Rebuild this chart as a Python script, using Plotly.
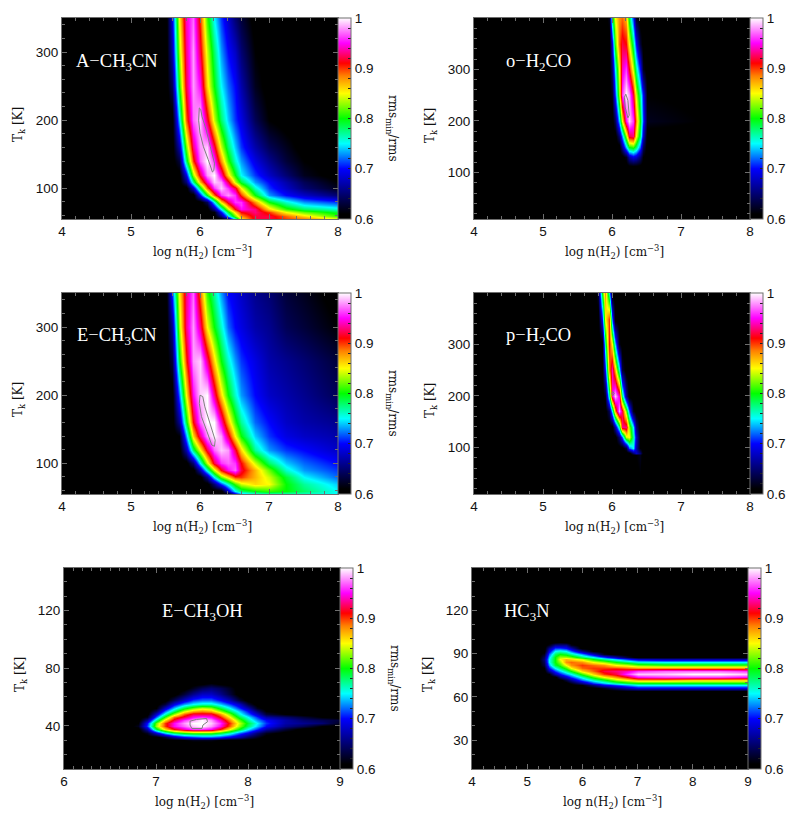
import plotly.graph_objects as go

# log n(H2) columns and T_k rows, z in percent of rms_min/rms
x_ach3cn = [4, 5.5, 5.6, 5.7, 5.8, 5.9, 6.0, 6.1, 6.2, 6.3, 6.4, 6.5, 6.6, 6.8, 7.0, 7.25, 7.5, 8]
t_ach3cn = [55, 60, 65, 70, 75, 80, 90, 100, 110, 120, 140, 160, 200, 250, 300, 350]
z_ach3cn = [
    [60, 60, 60, 60, 60, 60, 60, 60, 60, 60, 64, 75, 85, 92, 92, 90, 89, 85],
    [60, 60, 60, 60, 60, 60, 60, 60, 60, 65, 74, 82, 88, 92, 92, 89, 86, 81],
    [60, 60, 60, 60, 60, 60, 60, 60, 61, 70, 79, 86, 91, 93, 90, 85, 82, 79],
    [60, 60, 60, 60, 60, 60, 60, 60, 66, 75, 84, 91, 95, 93, 86, 81, 78, 76],
    [60, 60, 60, 60, 60, 60, 60, 62, 71, 81, 89, 94, 96, 90, 83, 78, 75, 73],
    [60, 60, 60, 60, 60, 60, 60, 64, 75, 86, 92, 96, 96, 88, 80, 76, 73, 71],
    [60, 60, 60, 60, 60, 60, 70, 80, 89, 96, 98, 96, 90, 80, 73, 70, 68, 65],
    [60, 60, 60, 60, 60, 68, 79, 89, 96, 99, 96, 92, 85, 76, 71, 68, 65, 62],
    [60, 60, 60, 60, 65, 77, 87, 94, 99, 98, 92, 84, 79, 73, 70, 67, 64, 61],
    [60, 60, 60, 60, 69, 83, 92, 98, 100, 94, 86, 80, 75, 71, 68, 65, 62, 60],
    [60, 60, 60, 63, 78, 90, 97, 100, 96, 88, 81, 76, 73, 69, 66, 63, 61, 60],
    [60, 60, 60, 67, 82, 93, 98, 99, 92, 84, 78, 74, 71, 67, 64, 62, 60, 60],
    [60, 60, 60, 74, 89, 97, 99, 92, 84, 78, 74, 71, 69, 64, 61, 60, 60, 60],
    [60, 60, 64, 80, 92, 98, 95, 86, 80, 75, 72, 70, 67, 62, 60, 60, 60, 60],
    [60, 60, 67, 83, 93, 98, 92, 84, 78, 73, 70, 68, 65, 61, 60, 60, 60, 60],
    [60, 60, 69, 85, 94, 97, 90, 81, 75, 71, 68, 65, 63, 60, 60, 60, 60, 60],
]

x_ech3cn = x_ach3cn
t_ech3cn = [55, 60, 70, 80, 90, 100, 120, 140, 160, 200, 250, 300, 350]
z_ech3cn = [
    [60, 60, 60, 60, 60, 60, 60, 60, 60, 60, 60, 68, 73, 75, 76, 76, 76, 75],
    [60, 60, 60, 60, 60, 60, 60, 60, 60, 60, 68, 75, 78, 80, 81, 80, 78, 75],
    [60, 60, 60, 60, 60, 60, 60, 60, 65, 71, 76, 81, 84, 86, 85, 80, 77, 74],
    [60, 60, 60, 60, 60, 60, 60, 66, 75, 82, 86, 90, 90, 87, 84, 79, 75, 72],
    [60, 60, 60, 60, 60, 60, 67, 76, 84, 91, 95, 97, 92, 87, 82, 76, 73, 71],
    [60, 60, 60, 60, 60, 65, 75, 84, 92, 96, 97, 96, 91, 84, 78, 74, 72, 70],
    [60, 60, 60, 60, 67, 78, 85, 92, 97, 99, 98, 92, 86, 77, 73, 71, 70, 68],
    [60, 60, 60, 61, 73, 86, 93, 98, 100, 98, 92, 85, 80, 74, 71, 69, 68, 67],
    [60, 60, 60, 66, 79, 91, 97, 100, 100, 94, 87, 81, 77, 72, 70, 68, 67, 66],
    [60, 60, 60, 72, 85, 95, 99, 100, 93, 86, 80, 76, 73, 70, 68, 67, 66, 64],
    [60, 60, 63, 79, 90, 98, 99, 93, 86, 80, 76, 73, 71, 69, 67, 66, 65, 63],
    [60, 60, 66, 83, 93, 98, 93, 85, 80, 76, 72, 70, 69, 67, 66, 64, 63, 61],
    [60, 60, 71, 85, 93, 97, 89, 81, 77, 73, 70, 69, 68, 66, 65, 63, 62, 60],
]

x_oh2co = [4, 5.9, 5.95, 6.0, 6.05, 6.1, 6.15, 6.2, 6.25, 6.3, 6.35, 6.4, 6.45, 6.5, 8]
t_oh2co = [10, 110, 130, 150, 170, 200, 250, 300, 350, 400]
z_oh2co = [
    [60, 60, 60, 60, 60, 60, 60, 60, 60, 60, 60, 60, 60, 60, 60],
    [60, 60, 60, 60, 60, 60, 60, 60, 60, 60, 60, 60, 60, 60, 60],
    [60, 60, 60, 60, 60, 60, 60, 62, 67, 69, 68, 65, 61, 60, 60],
    [60, 60, 60, 60, 60, 60, 66, 74, 80, 81, 78, 72, 64, 60, 60],
    [60, 60, 60, 60, 60, 65, 73, 83, 92, 93, 85, 78, 68, 60, 60],
    [60, 60, 60, 60, 64, 74, 85, 95, 99, 96, 88, 80, 71, 62, 60],
    [60, 60, 60, 62, 71, 83, 96, 100, 98, 92, 84, 77, 70, 61, 60],
    [60, 60, 60, 65, 75, 85, 94, 96, 91, 84, 77, 70, 62, 60, 60],
    [60, 60, 60, 69, 81, 89, 92, 91, 85, 78, 70, 63, 60, 60, 60],
    [60, 60, 62, 78, 85, 88, 89, 87, 79, 71, 62, 60, 60, 60, 60],
]

x_ph2co = [4, 5.75, 5.8, 5.85, 5.9, 5.95, 6.0, 6.05, 6.1, 6.15, 6.2, 6.25, 6.3, 6.35, 6.4, 6.45, 8]
t_ph2co = [10, 85, 90, 100, 120, 140, 170, 200, 250, 300, 350, 400]
z_ph2co = [
    [60, 60, 60, 60, 60, 60, 60, 60, 60, 60, 60, 60, 60, 60, 60, 60, 60],
    [60, 60, 60, 60, 60, 60, 60, 60, 60, 60, 60, 60, 60, 61, 62, 60, 60],
    [60, 60, 60, 60, 60, 60, 60, 60, 60, 60, 60, 60, 65, 68, 65, 60, 60],
    [60, 60, 60, 60, 60, 60, 60, 60, 60, 60, 63, 72, 75, 67, 61, 60, 60],
    [60, 60, 60, 60, 60, 60, 60, 60, 65, 72, 84, 85, 77, 68, 61, 60, 60],
    [60, 60, 60, 60, 60, 60, 60, 67, 77, 93, 93, 83, 75, 65, 60, 60, 60],
    [60, 60, 60, 60, 60, 64, 75, 88, 98, 92, 82, 72, 62, 60, 60, 60, 60],
    [60, 60, 60, 60, 62, 77, 94, 99, 94, 78, 66, 60, 60, 60, 60, 60, 60],
    [60, 60, 60, 60, 70, 88, 94, 87, 76, 63, 60, 60, 60, 60, 60, 60, 60],
    [60, 60, 60, 60, 77, 91, 85, 74, 62, 60, 60, 60, 60, 60, 60, 60, 60],
    [60, 60, 60, 70, 85, 90, 72, 60, 60, 60, 60, 60, 60, 60, 60, 60, 60],
    [60, 60, 63, 80, 88, 76, 60, 60, 60, 60, 60, 60, 60, 60, 60, 60, 60],
]

x_ch3oh = [6, 6.7, 6.8, 6.9, 7, 7.1, 7.2, 7.3, 7.4, 7.5, 7.6, 7.7, 7.8, 7.9, 8, 8.1, 8.2, 8.4, 8.6, 8.8, 9]
t_ch3oh = [10, 28, 30, 32, 35, 38, 40, 42, 44, 46, 48, 50, 52, 55, 58, 62, 66, 70, 150]
z_ch3oh = [
    [60, 60, 60, 60, 60, 60, 60, 60, 60, 60, 60, 60, 60, 60, 60, 60, 60, 60, 60, 60, 60],
    [60, 60, 60, 60, 60, 60, 60, 60, 60, 60, 60, 60, 60, 60, 60, 60, 60, 60, 60, 60, 60],
    [60, 60, 60, 60, 60, 60, 60, 61, 62, 62, 62, 61, 60, 60, 60, 60, 60, 60, 60, 60, 60],
    [60, 60, 60, 60, 60, 63, 67, 70, 71, 72, 72, 71, 69, 67, 64, 62, 60, 60, 60, 60, 60],
    [60, 60, 60, 62, 68, 74, 78, 80, 81, 81, 81, 79, 76, 72, 69, 65, 62, 60, 60, 60, 60],
    [60, 60, 60, 67, 79, 86, 91, 94, 96, 96, 95, 91, 85, 80, 75, 71, 67, 63, 60, 60, 60],
    [60, 60, 62, 71, 83, 90, 95, 97, 99, 100, 98, 95, 89, 83, 78, 74, 70, 66, 64, 61, 60],
    [60, 60, 61, 70, 82, 90, 95, 98, 100, 100, 99, 96, 90, 84, 79, 75, 71, 67, 66, 65, 62],
    [60, 60, 60, 66, 77, 86, 92, 96, 98, 100, 98, 94, 88, 82, 77, 73, 70, 67, 65, 64, 63],
    [60, 60, 60, 62, 72, 81, 89, 92, 95, 96, 95, 91, 85, 79, 75, 71, 67, 65, 63, 61, 60],
    [60, 60, 60, 60, 68, 76, 83, 89, 92, 92, 92, 88, 82, 76, 72, 68, 63, 61, 60, 60, 60],
    [60, 60, 60, 60, 64, 72, 78, 84, 87, 88, 87, 83, 78, 74, 70, 65, 61, 60, 60, 60, 60],
    [60, 60, 60, 60, 61, 68, 74, 79, 82, 84, 83, 79, 75, 71, 67, 62, 60, 60, 60, 60, 60],
    [60, 60, 60, 60, 60, 63, 69, 73, 75, 76, 76, 74, 71, 68, 63, 60, 60, 60, 60, 60, 60],
    [60, 60, 60, 60, 60, 60, 64, 68, 71, 72, 72, 70, 67, 63, 60, 60, 60, 60, 60, 60, 60],
    [60, 60, 60, 60, 60, 60, 60, 63, 66, 68, 68, 66, 63, 60, 60, 60, 60, 60, 60, 60, 60],
    [60, 60, 60, 60, 60, 60, 60, 60, 62, 64, 65, 64, 62, 60, 60, 60, 60, 60, 60, 60, 60],
    [60, 60, 60, 60, 60, 60, 60, 60, 60, 60, 61, 60, 60, 60, 60, 60, 60, 60, 60, 60, 60],
    [60, 60, 60, 60, 60, 60, 60, 60, 60, 60, 60, 60, 60, 60, 60, 60, 60, 60, 60, 60, 60],
]

x_hc3n = [4, 5.2, 5.3, 5.4, 5.5, 5.6, 5.7, 5.8, 6, 6.2, 6.4, 6.6, 6.8, 7, 7.5, 8, 8.5, 9]
t_hc3n = [10, 62, 64, 66, 68, 70, 72, 74, 76, 78, 80, 82, 84, 86, 88, 90, 92, 94, 96, 98, 150]
z_hc3n = [
    [60, 60, 60, 60, 60, 60, 60, 60, 60, 60, 60, 60, 60, 60, 60, 60, 60, 60],
    [60, 60, 60, 60, 60, 60, 60, 60, 60, 60, 60, 60, 60, 60, 60, 60, 60, 60],
    [60, 60, 60, 60, 60, 60, 60, 60, 60, 60, 60, 60, 61, 61, 61, 61, 61, 61],
    [60, 60, 60, 60, 60, 60, 60, 60, 60, 60, 62, 65, 67, 69, 69, 69, 69, 69],
    [60, 60, 60, 60, 60, 60, 60, 60, 61, 65, 69, 71, 73, 75, 75, 75, 75, 75],
    [60, 60, 60, 60, 60, 60, 60, 62, 66, 71, 74, 77, 79, 80, 80, 80, 80, 80],
    [60, 60, 60, 60, 60, 60, 63, 66, 72, 76, 79, 83, 85, 87, 87, 86, 86, 86],
    [60, 60, 60, 60, 60, 65, 68, 71, 76, 81, 85, 88, 91, 95, 96, 96, 96, 95],
    [60, 60, 60, 61, 67, 70, 73, 75, 81, 86, 90, 92, 96, 99, 99, 100, 100, 99],
    [60, 60, 60, 66, 71, 74, 77, 80, 86, 89, 92, 93, 94, 96, 97, 97, 97, 96],
    [60, 60, 61, 70, 75, 78, 81, 85, 89, 90, 90, 90, 89, 88, 88, 88, 88, 88],
    [60, 60, 63, 73, 79, 81, 85, 88, 90, 89, 88, 85, 84, 82, 81, 81, 81, 81],
    [60, 60, 64, 75, 80, 83, 88, 89, 88, 85, 83, 80, 78, 76, 75, 75, 75, 75],
    [60, 60, 65, 75, 80, 85, 87, 86, 84, 80, 77, 74, 71, 68, 67, 67, 67, 67],
    [60, 60, 64, 74, 80, 83, 83, 82, 78, 75, 71, 67, 63, 60, 60, 60, 60, 60],
    [60, 60, 62, 72, 78, 80, 79, 77, 73, 68, 62, 60, 60, 60, 60, 60, 60, 60],
    [60, 60, 60, 69, 75, 76, 75, 72, 66, 61, 60, 60, 60, 60, 60, 60, 60, 60],
    [60, 60, 60, 66, 71, 71, 70, 67, 60, 60, 60, 60, 60, 60, 60, 60, 60, 60],
    [60, 60, 60, 62, 66, 66, 66, 62, 60, 60, 60, 60, 60, 60, 60, 60, 60, 60],
    [60, 60, 60, 60, 60, 61, 60, 60, 60, 60, 60, 60, 60, 60, 60, 60, 60, 60],
    [60, 60, 60, 60, 60, 60, 60, 60, 60, 60, 60, 60, 60, 60, 60, 60, 60, 60],
]

# grey closed contour near the peak of each map
cx_ach3cn = [5.99, 6.01, 6.03, 6.09, 6.15, 6.21, 6.20, 6.18, 6.12, 6.05, 6.0, 5.98, 5.99]
cy_ach3cn = [218, 216, 205, 186, 161, 137, 126, 124, 142, 161, 181, 200, 218]
cx_ech3cn = [6.0, 6.04, 6.07, 6.14, 6.22, 6.21, 6.17, 6.10, 6.02, 5.99, 6.0]
cy_ech3cn = [200, 198, 183, 161, 134, 125, 127, 147, 169, 188, 200]
cx_oh2co = [6.2, 6.23, 6.25, 6.23, 6.19, 6.18, 6.2]
cy_oh2co = [252, 240, 211, 206, 227, 246, 252]
cx_ph2co = [6.01, 6.03, 6.01, 5.995, 6.01]
cy_ph2co = [208.5, 205, 200.5, 205, 208.5]
cx_ch3oh = [7.37, 7.44, 7.55, 7.56, 7.51, 7.50, 7.39, 7.37, 7.37]
cy_ch3oh = [43.2, 44.4, 45.1, 42.8, 40.5, 38.1, 38.1, 40.5, 43.2]

panels = [
    dict(name="A−CH<sub>3</sub>CN", x=x_ach3cn, t=t_ach3cn, z=z_ach3cn, cx=cx_ach3cn, cy=cy_ach3cn,
         box=(62, 338, 18, 219), xr=[4, 8], yr=[55, 350], xminor=0.2, yd=100, ym=20, lab=(117, 62), cbt=True),
    dict(name="o−H<sub>2</sub>CO", x=x_oh2co, t=t_oh2co, z=z_oh2co, cx=cx_oh2co, cy=cy_oh2co,
         box=(474, 750, 18, 219), xr=[4, 8], yr=[10, 399.5], xminor=0.2, yd=100, ym=20, lab=(538, 62), cbt=False),
    dict(name="E−CH<sub>3</sub>CN", x=x_ech3cn, t=t_ech3cn, z=z_ech3cn, cx=cx_ech3cn, cy=cy_ech3cn,
         box=(62, 338, 293, 494), xr=[4, 8], yr=[55, 350], xminor=0.2, yd=100, ym=20, lab=(117, 337), cbt=True),
    dict(name="p−H<sub>2</sub>CO", x=x_ph2co, t=t_ph2co, z=z_ph2co, cx=cx_ph2co, cy=cy_ph2co,
         box=(474, 750, 293, 494), xr=[4, 8], yr=[10, 399.5], xminor=0.2, yd=100, ym=20, lab=(538, 337), cbt=False),
    dict(name="E−CH<sub>3</sub>OH", x=x_ch3oh, t=t_ch3oh, z=z_ch3oh, cx=cx_ch3oh, cy=cy_ch3oh,
         box=(64, 340, 568, 769), xr=[6, 9], yr=[10, 149.5], xminor=0.1, yd=40, ym=10, lab=(202, 612), cbt=True),
    dict(name="HC<sub>3</sub>N", x=x_hc3n, t=t_hc3n, z=z_hc3n, cx=None, cy=None,
         box=(472, 748, 568, 769), xr=[4, 9], yr=[10, 149.5], xminor=0.2, yd=30, ym=10, lab=(527, 612), cbt=False),
]

W, H = 800, 823
cscale = [
    [0.0, "#000000"], [0.025, "#000000"], [0.25, "#0000ff"], [0.375, "#00ffff"], [0.5, "#00ff00"],
    [0.625, "#ffff00"], [0.7125, "#ff8000"], [0.775, "#ff0000"], [0.875, "#ff00ff"], [1.0, "#ffffff"],
]
cb_vals = [0.6, 0.62, 0.64, 0.66, 0.68, 0.7, 0.72, 0.74, 0.76, 0.78, 0.8,
           0.82, 0.84, 0.86, 0.88, 0.9, 0.92, 0.94, 0.96, 0.98, 1.0]
cb_text = ["0.6" if v == 0.6 else "1" if v == 1.0 else f"{v:.1f}" if round(v * 100) % 10 == 0 else "" for v in cb_vals]
frame = "#6e6e6e"
serif = "Liberation Serif"
label_serif = "DejaVu Serif"
sans = "Liberation Sans"

fig = go.Figure()
layout = {}
notes = []

for i, p in enumerate(panels, start=1):
    x0, x1, y0, y1 = p["box"]
    xn = f"xaxis{i}" if i > 1 else "xaxis"
    yn = f"yaxis{i}" if i > 1 else "yaxis"
    xa = f"x{i}" if i > 1 else "x"
    ya = f"y{i}" if i > 1 else "y"
    fig.add_trace(go.Heatmap(
        x=p["x"], y=p["t"], z=[[v / 100 for v in row] for row in p["z"]],
        xaxis=xa, yaxis=ya, zmin=0.6, zmax=1, zsmooth="best", colorscale=cscale, hoverinfo="skip",
        colorbar=dict(
            x=x1 / W, xanchor="left", y=1 - y1 / H, yanchor="bottom", len=(y1 - y0) / H, lenmode="fraction",
            thickness=13, thicknessmode="pixels", xpad=0, ypad=0, outlinecolor=frame, outlinewidth=1,
            ticks="inside", ticklen=3, tickcolor="#222222", tickwidth=1, tickmode="array",
            tickvals=cb_vals, ticktext=cb_text, tickfont=dict(family=sans, size=13.5, color="#111111"),
        ),
    ))
    if p["cx"]:
        fig.add_trace(go.Scatter(x=p["cx"], y=p["cy"], xaxis=xa, yaxis=ya, mode="lines",
                                 line=dict(color="#808080", width=1), showlegend=False, hoverinfo="skip"))
    common = dict(showline=True, linecolor=frame, linewidth=1, mirror="allticks", ticks="inside", ticklen=5,
                  tickcolor=frame, showgrid=False, zeroline=False,
                  tickfont=dict(family=sans, size=13.5, color="#111111"))
    layout[xn] = dict(domain=[x0 / W, x1 / W], range=p["xr"], anchor=ya, dtick=1, tick0=0,
                      minor=dict(dtick=p["xminor"], tick0=0, ticks="inside", ticklen=3, tickcolor=frame), **common)
    layout[yn] = dict(domain=[1 - y1 / H, 1 - y0 / H], range=p["yr"], anchor=xa, dtick=p["yd"], tick0=0,
                      minor=dict(dtick=p["ym"], tick0=0, ticks="inside", ticklen=3, tickcolor=frame), **common)
    notes.append(dict(text=p["name"], x=p["lab"][0] / W, y=1 - p["lab"][1] / H, font=dict(family=serif, size=18.5, color="white")))
    notes.append(dict(text="log n(H<sub>2</sub>) [cm<sup>−3</sup>]", x=(x0 + 140) / W, y=1 - (y1 + 33) / H,
                      font=dict(family=label_serif, size=12, color="#111111")))
    notes.append(dict(text="T<sub>k</sub> [K]", x=(x0 - 43) / W, y=1 - (y0 + 107) / H, textangle=-90,
                      font=dict(family=label_serif, size=12, color="#111111")))
    if p["cbt"]:
        notes.append(dict(text="rms<sub>min</sub>/rms", x=(x1 + 54) / W, y=1 - (y0 + 110) / H, textangle=90,
                          font=dict(family=label_serif, size=12, color="#111111")))

fig.update_layout(
    width=W, height=H, autosize=False, showlegend=False,
    margin=dict(l=0, r=0, t=0, b=0, autoexpand=False),
    paper_bgcolor="white", plot_bgcolor="black",
    annotations=[dict(xref="paper", yref="paper", xanchor="center", yanchor="middle", showarrow=False, **n) for n in notes],
    **layout,
)
fig.write_html("out.html", post_script="document.body.style.margin='0';", config=dict(displayModeBar=False))
